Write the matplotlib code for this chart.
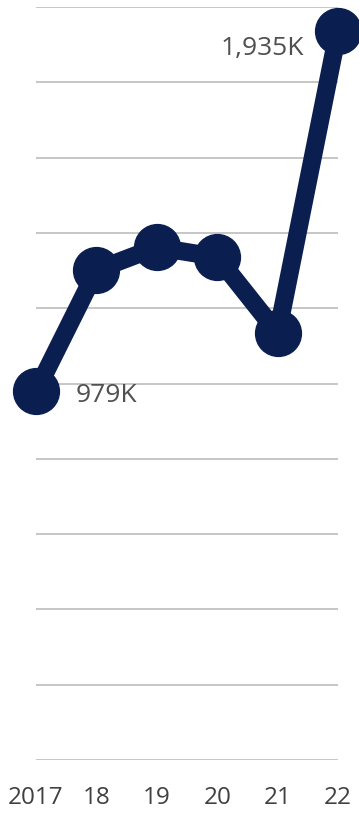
import matplotlib.pyplot as plt

# yearly totals, in thousands
years = ["2017", "18", "19", "20", "21", "22"]
values = [979, 1301, 1362, 1336, 1134, 1935]
grid_levels = list(range(0, 2001, 200))

navy = "#0b1e50"
text_gray = "#505050"
label_font = "Open Sans"

fig = plt.figure(figsize=(3.59, 8.15), dpi=100)
ax = fig.add_axes([36 / 359, 55 / 815, 302 / 359, 753 / 815])

for lvl in grid_levels:
    ax.axhline(lvl, color="#c6c6c6", lw=1.4, zorder=1)

x = list(range(len(years)))
ax.plot(x, values, color=navy, lw=13, solid_capstyle="round",
        solid_joinstyle="round", zorder=3, clip_on=False)
ax.plot(x, values, "o", color=navy, ms=33, zorder=4, clip_on=False)

ax.set_xlim(0, len(years) - 1)
ax.set_ylim(0, 2000)

# value labels on first and last point
ax.text(x[0] + 0.66, values[0] - 10, f"{values[0]:,}K", fontsize=19, color=text_gray,
        family=label_font, va="center", ha="left")
ax.text(x[-1] - 0.57, values[-1] - 45, f"{values[-1]:,}K", fontsize=19, color=text_gray,
        family=label_font, va="center", ha="right")

ax.set_xticks(x)
ax.set_xticklabels(years, fontsize=17.5, color="#404040", family=label_font)
ax.tick_params(axis="x", length=0, pad=19)
ax.set_yticks([])
for s in ax.spines.values():
    s.set_visible(False)

fig.savefig("out.png", dpi=100)
